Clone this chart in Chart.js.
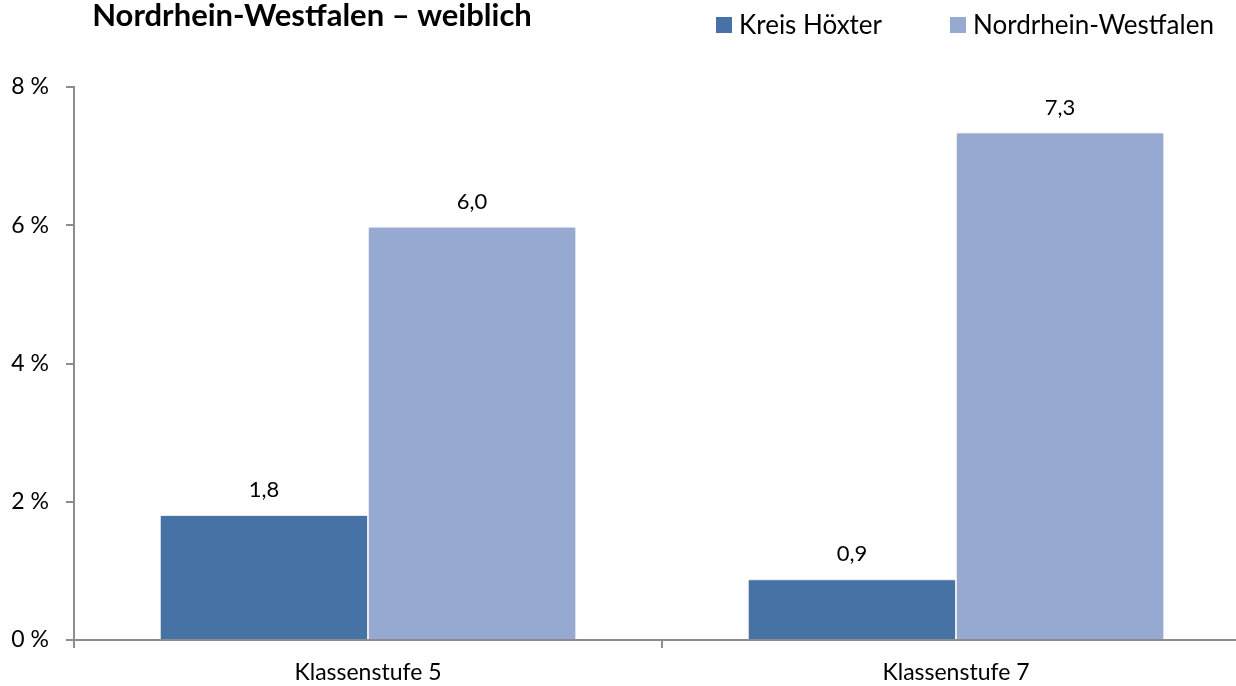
<!DOCTYPE html>
<html lang="de">
<head>
<meta charset="utf-8">
<title>Nordrhein-Westfalen – weiblich</title>
<script src="https://cdn.jsdelivr.net/npm/chart.js@4/dist/chart.umd.min.js"></script>
<style>
  html, body { margin: 0; padding: 0; background: #fff; overflow: hidden; }
  #wrap { position: relative; width: 1250px; height: 686px; }
</style>
</head>
<body>
<div id="wrap"><canvas id="chart" width="1250" height="686"></canvas></div>
<script>
// data
const categories = ["Klassenstufe 5", "Klassenstufe 7"];
const seriesNames = ["Kreis Höxter", "Nordrhein-Westfalen"];
const kreisHoexter = [1.81, 0.88];
const nordrheinWestfalen = [5.98, 7.34];
const yTickValues = [0, 2, 4, 6, 8];
const chartTitle = "Nordrhein-Westfalen – weiblich";

const colors = ["#4672a6", "#95a9d1"];
const axisColor = "#8c8c8c";
const fontFamily = "Lato, 'Open Sans', sans-serif";

// value labels above the bars, comma as decimal sign
const valueLabels = {
    id: "valueLabels",
    afterDatasetsDraw(chart) {
        const ctx = chart.ctx;
        ctx.save();
        ctx.font = "22px " + fontFamily;
        ctx.fillStyle = "#000";
        ctx.textAlign = "center";
        ctx.textBaseline = "alphabetic";
        chart.data.datasets.forEach((ds, i) => {
            chart.getDatasetMeta(i).data.forEach((bar, j) => {
                const txt = ds.data[j].toFixed(1).replace(".", ",");
                ctx.fillText(txt, bar.x, bar.y - 18);
            });
        });
        ctx.restore();
    }
};

// soft shadow round the bars
const barShadow = {
    id: "barShadow",
    beforeDatasetsDraw(chart) {
        const ctx = chart.ctx;
        ctx.save();
        ctx.shadowColor = "rgba(0,0,0,0.22)";
        ctx.shadowBlur = 4;
        ctx.shadowOffsetX = 0;
        ctx.shadowOffsetY = 0;
    },
    afterDatasetsDraw(chart) {
        chart.ctx.restore();
    }
};

// title and legend at the top
const header = {
    id: "header",
    afterDraw(chart) {
        const ctx = chart.ctx;
        ctx.save();
        ctx.fillStyle = "#000";
        ctx.font = "bold 31px " + fontFamily;
        ctx.textAlign = "center";
        ctx.textBaseline = "alphabetic";
        ctx.fillText(chartTitle, 312, 26);

        const legendX = [716, 950];
        ctx.font = "26px " + fontFamily;
        ctx.textAlign = "left";
        chart.data.datasets.forEach((ds, i) => {
            ctx.fillStyle = ds.backgroundColor;
            ctx.fillRect(legendX[i], 17, 16, 16);
            ctx.fillStyle = "#000";
            ctx.fillText(ds.label, legendX[i] + 23, 34);
        });
        ctx.restore();
    }
};

new Chart(document.getElementById("chart"), {
    type: "bar",
    data: {
        labels: categories,
        datasets: [
            {
                label: seriesNames[0],
                data: kreisHoexter,
                backgroundColor: colors[0],
                borderColor: "#ffffff",
                borderWidth: 1,
                categoryPercentage: 0.708,
                barPercentage: 1.0,
            },
            {
                label: seriesNames[1],
                data: nordrheinWestfalen,
                backgroundColor: colors[1],
                borderColor: "#ffffff",
                borderWidth: 1,
                categoryPercentage: 0.708,
                barPercentage: 1.0,
            },
        ],
    },
    options: {
        responsive: false,
        animation: false,
        layout: { padding: { top: 87, left: 0, right: 0, bottom: 0 } },
        plugins: {
            legend: { display: false },
            title: { display: false },
            tooltip: { enabled: false },
        },
        scales: {
            x: {
                grid: {
                    display: true,
                    drawOnChartArea: false,
                    offset: true,
                    color: axisColor,
                    lineWidth: 2,
                    tickLength: 8,
                },
                border: { display: true, color: axisColor, width: 2 },
                ticks: {
                    color: "#000",
                    font: { family: fontFamily, size: 23 },
                    padding: 11,
                },
                afterFit(scale) { scale.height = 46; },
            },
            y: {
                min: 0,
                max: 8,
                afterBuildTicks(scale) {
                    scale.ticks = yTickValues.map((v) => ({ value: v }));
                },
                grid: {
                    display: true,
                    drawOnChartArea: false,
                    color: axisColor,
                    lineWidth: 2,
                    tickLength: 8,
                },
                border: { display: true, color: axisColor, width: 2 },
                ticks: {
                    color: "#000",
                    font: { family: fontFamily, size: 23 },
                    padding: 17,
                    callback: (v) => v + " %",
                },
                afterFit(scale) { scale.width = 74; },
            },
        },
    },
    plugins: [barShadow, valueLabels, header],
});
</script>
</body>
</html>
